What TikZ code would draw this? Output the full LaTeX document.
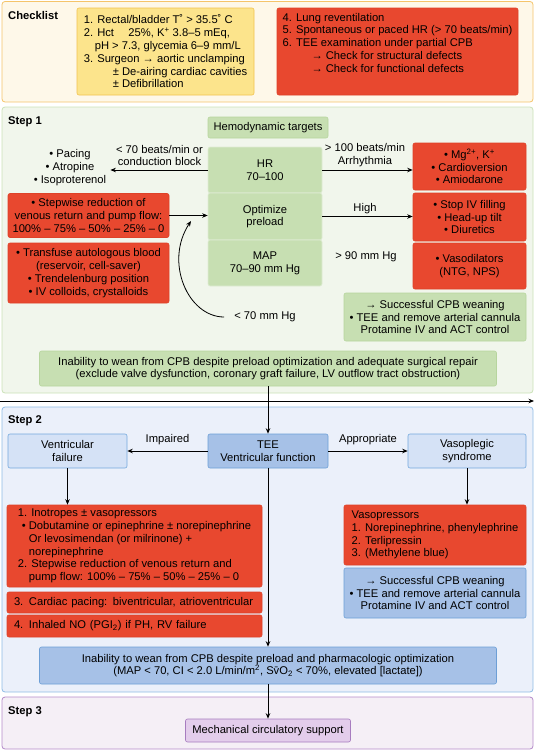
\documentclass[tikz,border=0pt]{standalone}
\usepackage{fontspec}
\setmainfont{Liberation Sans}
\usetikzlibrary{arrows.meta}

\definecolor{chkfill}{HTML}{FEF8E9}
\definecolor{chkline}{HTML}{F5C46A}
\definecolor{yelfill}{HTML}{FCE48C}
\definecolor{yelline}{HTML}{F2C24F}
\definecolor{redfill}{HTML}{E8482F}
\definecolor{redline}{HTML}{DE4229}
\definecolor{sonefill}{HTML}{F1F6EC}
\definecolor{soneline}{HTML}{CBE2B8}
\definecolor{grnfill}{HTML}{C7DFB2}
\definecolor{grnline}{HTML}{B7D59E}
\definecolor{stwofill}{HTML}{EBF0FA}
\definecolor{stwoline}{HTML}{8FBCE6}
\definecolor{ltbfill}{HTML}{D5E2F6}
\definecolor{ltbline}{HTML}{74A9DD}
\definecolor{dkbfill}{HTML}{A6C1E7}
\definecolor{dkbline}{HTML}{6D9FD6}
\definecolor{sthreefill}{HTML}{F5EFF6}
\definecolor{sthreeline}{HTML}{B48AC9}
\definecolor{purfill}{HTML}{E3CDEB}
\definecolor{purline}{HTML}{A77CBF}

\newcommand\diagfont{\fontsize{11.2}{12.8}\selectfont}

\tikzset{
  panel/.style={rounded corners=3pt,line width=0.8pt},
  title/.style={anchor=west,inner sep=0pt,font=\diagfont\bfseries},
  plain/.style={align=center,inner sep=2pt},
  box/.style={rounded corners=2pt,inner sep=0pt,align=center,line width=0.6pt},
  redbox/.style={box,fill=redfill,draw=redline},
  yelbox/.style={box,fill=yelfill,draw=yelline},
  grnbox/.style={box,fill=grnfill,draw=grnline},
  targetbox/.style={box,fill=grnfill,draw=sonefill!60!grnfill,minimum width=114pt},
  ltbbox/.style={box,fill=ltbfill,draw=ltbline},
  dkbbox/.style={box,fill=dkbfill,draw=dkbline},
  purbox/.style={box,fill=purfill,draw=purline},
}

\begin{document}
\begin{tikzpicture}[x=1pt,y=-1pt,>={Stealth[length=5.5pt,width=4.5pt]},font=\diagfont]
\useasboundingbox (0,0) rectangle (535,750);

% checklist
\draw[panel,draw=chkline,fill=chkfill] (2,1.5) rectangle (533,102);
\node[title] (chktitle) at (8,15) {Checklist};
\node[yelbox,align=left,minimum width=177pt,minimum height=87pt] (chkleft) at (165.5,51.5)
  {1. Rectal/bladder T˚ > 35.5˚ C\\
   2. Hct \quad 25\%, K\textsuperscript{+} 3.8–5 mEq,\\
   \hspace*{11pt}pH > 7.3, glycemia 6–9 mm/L\\
   3. Surgeon → aortic unclamping\\
   \hspace*{29pt}± De-airing cardiac cavities\\
   \hspace*{29pt}± Defibrillation};
\node[redbox,align=left,minimum width=241pt,minimum height=87pt] (chkright) at (397.5,51.5)
  {4. Lung reventilation\\
   5. Spontaneous or paced HR (> 70 beats/min)\\
   6. TEE examination under partial CPB\\
   \hspace*{29pt}→ Check for structural defects\\
   \hspace*{29pt}→ Check for functional defects\\[5pt]\mbox{}};

% step 1
\draw[panel,draw=soneline,fill=sonefill] (2,107) rectangle (533,393);
\node[title] (sonetitle) at (8,122) {Step 1};
\node[grnbox,minimum width=120pt,minimum height=21pt] (targets) at (268,127.5) {Hemodynamic targets};
\node[targetbox,minimum height=46pt] (hr) at (265,170) {HR\\70–100};
\node[targetbox,minimum height=47pt] (preload) at (265,216.5) {Optimize\\preload};
\node[targetbox,minimum height=46pt] (map) at (265,263) {MAP\\70–90 mm Hg};

\node[plain,inner xsep=4pt] (brady) at (70,167.5) {• Pacing\\• Atropine\\• Isoproterenol};
\node[plain] (bradylbl) at (159.5,155.5) {< 70 beats/min or\\conduction block};
\draw[->,thick] (hr.west) -- (hr.west -| brady.east);

\node[redbox,minimum width=161pt,minimum height=44pt] (reduce) at (88.5,215.5)
  {• Stepwise reduction of\\venous return and pump flow:\\100\% – 75\% – 50\% – 25\% – 0};
\draw[->,thick] (reduce.east) -- (reduce.east -| preload.west);
\node[redbox,minimum width=161pt,minimum height=60pt] (refill) at (88.5,273)
  {• Transfuse autologous blood\\(reservoir, cell-saver)\\• Trendelenburg position\\• IV colloids, crystalloids};

\node[plain,inner xsep=10pt] (lowmap) at (265,317) {< 70 mm Hg};
\coordinate (preloadin) at (191,221);
\draw[->,thick] (lowmap.west) .. controls (188,317) and (164,262) .. (preloadin);

\node[plain] (tachylbl) at (365,155.5) {> 100 beats/min\\Arrhythmia};
\node[redbox,minimum width=113pt,minimum height=47pt] (antiarr) at (469.5,166.5)
  {• Mg\textsuperscript{2+}, K\textsuperscript{+}\\• Cardioversion\\• Amiodarone};
\draw[->,thick] (hr.east) -- (hr.east -| antiarr.west);

\node[plain] (highlbl) at (365,209) {High};
\node[redbox,minimum width=113pt,minimum height=48pt] (unload) at (469.5,217)
  {• Stop IV filling\\• Head-up tilt\\• Diuretics};
\draw[->,thick] (preload.east) -- (preload.east -| unload.west);

\node[plain] (hyperlbl) at (366,257) {> 90 mm Hg};
\node[redbox,minimum width=113pt,minimum height=46pt] (vasodil) at (469.5,266)
  {• Vasodilators\\(NTG, NPS)};

\node[grnbox,minimum width=182pt,minimum height=48pt] (weanone) at (435,317)
  {→ Successful CPB weaning\\• TEE and remove arterial cannula\\Protamine IV and ACT control};
\node[grnbox,minimum width=457pt,minimum height=35pt] (failone) at (268,368.5)
  {Inability to wean from CPB despite preload optimization and adequate surgical repair\\
   (exclude valve dysfunction, coronary graft failure, LV outflow tract obstruction)};

% to step 2
\coordinate (railw) at (0,401);
\coordinate (raile) at (534,401);
\draw[->,thick] (railw) -- (raile);

% step 2
\draw[panel,draw=stwoline,fill=stwofill] (2,407) rectangle (533,692);
\node[title] (stwotitle) at (8,421) {Step 2};
\node[ltbbox,minimum width=119pt,minimum height=34pt] (ventfail) at (67.5,451) {Ventricular\\failure};
\node[dkbbox,minimum width=120pt,minimum height=34pt] (tee) at (268,451) {TEE\\Ventricular function};
\node[ltbbox,minimum width=118pt,minimum height=34pt] (vasopleg) at (467,451) {Vasoplegic\\syndrome};
\draw[->,thick] (failone) -- (tee);
\draw[->,thick] (tee) -- (ventfail) node[midway,above=2pt] (impairedlbl) {Impaired};
\draw[->,thick] (tee) -- (vasopleg) node[midway,above=2pt] (appropriatelbl) {Appropriate};

\node[redbox,align=left,minimum width=255pt,minimum height=82pt] (inotropes) at (134.5,546)
  {1. Inotropes ± vasopressors\\
   \hspace*{4pt}• Dobutamine or epinephrine ± norepinephrine\\
   \hspace*{11pt}Or levosimendan (or milrinone) +\\
   \hspace*{11pt}norepinephrine\\
   2. Stepwise reduction of venous return and\\
   \hspace*{11pt}pump flow: 100\% – 75\% – 50\% – 25\% – 0};
\draw[->,thick] (ventfail) -- (ventfail |- inotropes.north);
\node[redbox,align=left,text width=241pt,minimum width=255pt,minimum height=21pt] (pacing) at (134.5,602.5)
  {\mbox{3. Cardiac pacing: biventricular, atrioventricular}};
\node[redbox,align=left,text width=241pt,minimum width=255pt,minimum height=22pt] (inhaled) at (134.5,626)
  {\mbox{4. Inhaled NO (PGI\textsubscript{2}) if PH, RV failure}};

\node[redbox,align=left,minimum width=182pt,minimum height=60pt] (vasopress) at (435,535)
  {Vasopressors\\1. Norepinephrine, phenylephrine\\2. Terlipressin\\3. (Methylene blue)};
\draw[->,thick] (vasopleg) -- (vasopleg |- vasopress.north);
\node[dkbbox,minimum width=182pt,minimum height=50pt] (weantwo) at (435,593)
  {→ Successful CPB weaning\\• TEE and remove arterial cannula\\Protamine IV and ACT control};

\node[dkbbox,minimum width=457pt,minimum height=37pt] (failtwo) at (268,665.5)
  {Inability to wean from CPB despite preload and pharmacologic optimization\\
   (MAP < 70, CI < 2.0 L/min/m\textsuperscript{2}, S\={v}O\textsubscript{2} < 70\%, elevated [lactate])};
\draw[->,thick] (tee) -- (failtwo);

% step 3
\draw[panel,draw=sthreeline,fill=sthreefill] (2,697) rectangle (533,749);
\node[title] (sthreetitle) at (8,712) {Step 3};
\node[purbox,minimum width=165pt,minimum height=23pt] (mcs) at (268,730.5) {Mechanical circulatory support};
\draw[->,thick] (failtwo) -- (mcs);
\end{tikzpicture}
\end{document}
